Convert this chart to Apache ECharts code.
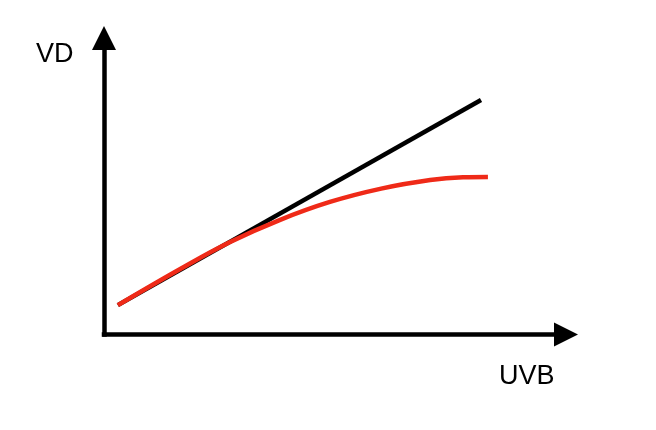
<!DOCTYPE html>
<html>
<head>
<meta charset="utf-8">
<script src="https://cdn.jsdelivr.net/npm/echarts@6/dist/echarts.min.js"></script>
<style>
html,body{margin:0;padding:0;background:#fff;}
#chart{width:656px;height:430px;}
</style>
</head>
<body>
<div id="chart"></div>
<script>
// Axis labels
var xAxisLabel = 'UVB';
var yAxisLabel = 'VD';

// Black straight (linear) line: [x, y]
var linearX = [3.0, 81.6];
var linearY = [9.9, 79.1];

// Red saturating curve: [x, y]
var curveX = [3.0, 16.5, 27.3, 38.0, 48.9, 60.0, 70.6, 77.7, 83.1];
var curveY = [9.9, 22.1, 31.2, 38.6, 44.7, 49.2, 52.1, 53.0, 53.1];

function zip(xs, ys) {
  return xs.map(function (x, i) { return [x, ys[i]]; });
}

var chart = echarts.init(document.getElementById('chart'), null, {renderer: 'canvas'});
var axisCommon = {
  type: 'value',
  min: 0,
  max: 100,
  axisTick: {show: false},
  axisLabel: {show: false},
  splitLine: {show: false},
  axisLine: {
    show: true,
    symbol: ['none', 'triangle'],
    symbolSize: [24, 24],
    lineStyle: {color: '#000', width: 4.5, cap: 'square'}
  }
};
chart.setOption({
  animation: false,
  backgroundColor: '#fff',
  grid: {left: 104, right: 90, top: 38, bottom: 95.5, containLabel: false},
  xAxis: axisCommon,
  yAxis: axisCommon,
  graphic: [
    {type: 'text', left: 36, top: 41, style: {text: yAxisLabel, font: '27px "Liberation Sans", Arial, sans-serif', fill: '#000'}},
    {type: 'text', left: 499, top: 363, style: {text: xAxisLabel, font: '27px "Liberation Sans", Arial, sans-serif', fill: '#000'}}
  ],
  series: [
    {
      type: 'line',
      data: zip(linearX, linearY),
      showSymbol: false,
      symbol: 'none',
      lineStyle: {color: '#000', width: 4.5},
      z: 2
    },
    {
      type: 'line',
      data: zip(curveX, curveY),
      smooth: 0.4,
      showSymbol: false,
      symbol: 'none',
      lineStyle: {color: '#ef2a18', width: 4.5},
      z: 3
    }
  ]
});
</script>
</body>
</html>
